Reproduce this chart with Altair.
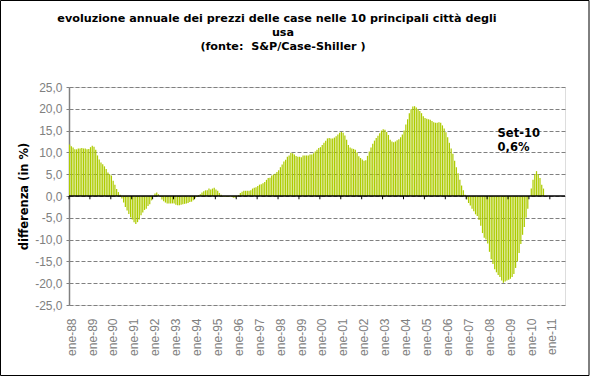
import altair as alt
import pandas as pd

month_abbr = ["ene", "feb", "mar", "abr", "may", "jun", "jul", "ago", "sep", "oct", "nov", "dic"]
# category axis: Jan 1988 .. Sep 2011
categories = [f"{m}-{y % 100:02d}" for y in range(1988, 2012) for m in month_abbr][:285]
jan_labels = [c for c in categories if c.startswith("ene-")]

# annual change (%), Jan 1988 .. Sep 2010
v1988 = [11.8, 11.4, 11.1, 10.7, 10.7, 10.9, 10.9, 11.0, 10.9, 10.9, 10.7, 10.8]
v1989 = [11.2, 11.5, 11.3, 10.6, 9.3, 8.4, 7.7, 7.3, 6.8, 6.2, 5.4, 5.0]
v1990 = [4.7, 3.5, 2.6, 1.6, 0.9, 0.3, -0.6, -1.5, -2.5, -3.3, -4.1, -4.9]
v1991 = [-5.4, -6.0, -6.4, -6.0, -5.4, -4.4, -3.8, -3.2, -2.9, -2.3, -1.9, -1.0]
v1992 = [0.0, 0.6, 0.8, 0.4, -0.2, -0.8, -1.2, -1.5, -1.7, -1.7, -1.7, -1.7]
v1993 = [-1.7, -2.0, -2.1, -2.1, -2.0, -1.9, -1.8, -1.7, -1.6, -1.4, -1.3, -1.0]
v1994 = [-0.5, -0.2, 0.2, 0.4, 0.8, 1.1, 1.3, 1.3, 1.7, 1.5, 1.7, 1.9]
v1995 = [1.5, 1.2, 0.7, 0.3, -0.2, -0.2, -0.2, -0.2, -0.1, -0.2, -0.4, -0.4]
v1996 = [-0.2, 0.2, 0.7, 1.0, 1.2, 1.2, 1.2, 1.2, 1.3, 1.7, 1.9, 2.0]
v1997 = [2.3, 2.6, 2.7, 2.9, 3.2, 3.7, 4.1, 4.2, 4.7, 4.9, 5.1, 5.5]
v1998 = [5.9, 6.6, 7.2, 7.9, 8.3, 9.0, 9.3, 9.9, 9.8, 9.5, 9.2, 9.0]
v1999 = [9.0, 8.9, 9.3, 9.3, 9.3, 9.3, 9.5, 9.5, 9.8, 10.2, 10.6, 11.0]
v2000 = [11.2, 11.7, 12.2, 12.7, 13.2, 13.3, 13.2, 13.2, 13.4, 13.7, 14.1, 14.5]
v2001 = [14.7, 14.5, 13.9, 12.9, 11.7, 11.1, 10.9, 10.8, 10.6, 10.0, 9.1, 8.7]
v2002 = [8.4, 8.1, 8.2, 9.2, 10.2, 11.1, 12.0, 12.7, 13.3, 13.8, 14.4, 15.0]
v2003 = [15.3, 15.2, 14.7, 14.0, 12.9, 12.5, 12.3, 12.5, 12.8, 13.0, 13.5, 14.1]
v2004 = [15.0, 16.4, 17.6, 19.0, 19.9, 20.5, 20.6, 20.3, 19.9, 19.5, 19.0, 18.3]
v2005 = [17.9, 17.7, 17.6, 17.5, 17.2, 16.9, 16.8, 16.8, 16.9, 16.8, 16.2, 15.5]
v2006 = [14.6, 13.5, 12.2, 10.9, 9.7, 8.1, 6.6, 5.2, 3.7, 2.4, 1.3, 0.3]
v2007 = [-0.8, -1.6, -2.2, -2.9, -3.5, -4.2, -4.6, -5.5, -6.8, -8.5, -9.6, -10.0]
v2008 = [-10.9, -12.8, -14.5, -15.6, -16.8, -17.5, -18.1, -18.6, -19.4, -19.9, -19.6, -19.4]
v2009 = [-19.2, -19.0, -18.6, -17.9, -16.5, -15.0, -13.1, -11.0, -8.9, -7.1, -5.0, -2.9]
v2010 = [0.0, 1.7, 3.7, 5.0, 5.7, 5.0, 4.1, 2.6, 1.7]

values = (v1988 + v1989 + v1990 + v1991 + v1992 + v1993 + v1994 + v1995 + v1996
          + v1997 + v1998 + v1999 + v2000 + v2001 + v2002 + v2003 + v2004 + v2005
          + v2006 + v2007 + v2008 + v2009 + v2010)

y_ticks = [-25, -20, -15, -10, -5, 0, 5, 10, 15, 20, 25]
title_lines = ["evoluzione annuale dei prezzi delle case nelle 10 principali città degli",
               "usa",
               "(fonte:\u00a0 S&P/Case-Shiller )"]
note_lines = ["Set-10", "0,6%"]
note_y = [13.5, 10.3]
note_month = "jul-08"

df = pd.DataFrame({"mese": categories[:len(values)], "variazione": values})

W, H = 496, 218
xscale = alt.Scale(domain=categories, paddingInner=0.3, paddingOuter=0)
yscale = alt.Scale(domain=[-25, 25], nice=False, zero=False)

bars = alt.Chart(df).mark_bar(color="#ADCB00").encode(
    x=alt.X("mese:N", scale=xscale, sort=None,
            axis=alt.Axis(values=jan_labels, labelAngle=-90, labelColor="#808080",
                          labelFont="Liberation Sans", labelFontSize=12,
                          labelPadding=13, labelOffset=2, domain=False, ticks=False,
                          tickSize=0, grid=False, title=None, labelOverlap=False,
                          labelBound=False)),
    y=alt.Y("variazione:Q", scale=yscale,
            axis=alt.Axis(values=y_ticks, tickCount=len(y_ticks),
                          labelExpr="datum.value + ',0'",
                          labelColor="#808080", labelFont="Liberation Sans",
                          labelFontSize=12, labelPadding=4, tickSize=3,
                          labelOverlap=False, labelBound=False, labelFlush=False,
                          tickColor="#808080", domainColor="#808080", domainWidth=1.5,
                          grid=True, gridDash=[4, 2], gridColor="#808080",
                          title="differenza (in %)", titleFont="DejaVu Sans",
                          titleFontWeight="bold", titleFontSize=11.5, titleColor="black",
                          titleX=-45, titleY=H / 2, titleAlign="center",
                          titleBaseline="middle")),
)

zero_line = alt.Chart(pd.DataFrame({"variazione": [0]})).mark_rule(
    color="black", strokeWidth=1.5).encode(y=alt.Y("variazione:Q"))

jan_ticks = alt.Chart(pd.DataFrame({"mese": jan_labels, "a": [0.0] * len(jan_labels),
                                    "b": [-0.75] * len(jan_labels)})).mark_rule(
    color="black", strokeWidth=1).encode(
    x=alt.X("mese:N", bandPosition=0),
    y=alt.Y("a:Q", title="differenza (in %)"), y2="b:Q")

note = alt.Chart(pd.DataFrame({"mese": [note_month] * 2, "variazione": note_y,
                               "t": note_lines})).mark_text(
    align="left", baseline="alphabetic", font="DejaVu Sans", fontWeight="bold",
    fontSize=11.5, color="black").encode(
    x=alt.X("mese:N", bandPosition=0),
    y=alt.Y("variazione:Q"), text="t:N")

frame = alt.Chart(pd.DataFrame({"f": [0]})).mark_rect(
    fillOpacity=0, stroke="black", strokeWidth=1).encode(
    x=alt.value(-68.5), x2=alt.value(520), y=alt.value(-86.5), y2=alt.value(288.5))


def title_line(text, cx, base_y):
    return alt.Chart(pd.DataFrame({"t": [text]})).mark_text(
        align="center", baseline="alphabetic", font="DejaVu Sans", fontWeight="bold",
        fontSize=11.2, color="black").encode(
        text="t:N", x=alt.value(cx), y=alt.value(base_y))


titles = [title_line(title_lines[0], 208, -65),
          title_line(title_lines[1], 214, -51),
          title_line(title_lines[2], 214, -37)]

chart = alt.layer(bars, zero_line, jan_ticks, note, frame, *titles).properties(
    width=W, height=H,
    padding={"left": 69, "top": 87, "right": 25, "bottom": 71},
    autosize=alt.AutoSizeParams(type="none"),
).configure_view(stroke=None).configure(background="white")

chart.save("out.html", embed_options={"renderer": "svg", "actions": False})
